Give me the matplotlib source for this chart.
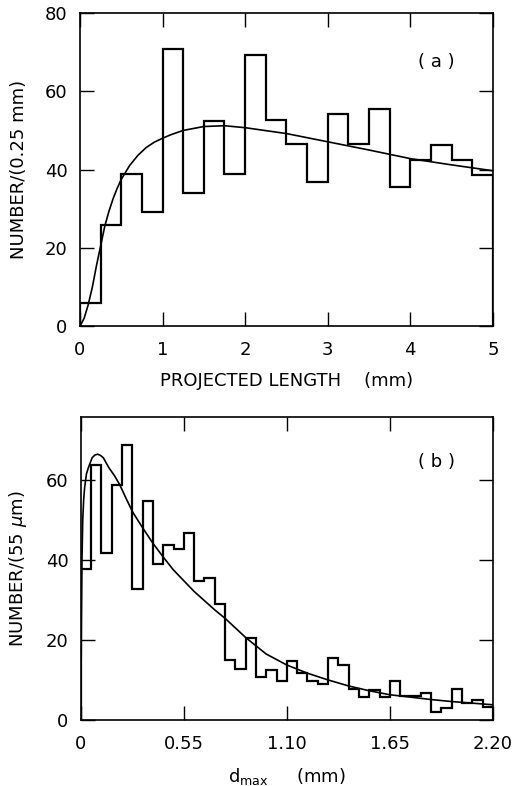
import matplotlib
matplotlib.use('Agg')
import matplotlib.pyplot as plt
import numpy as np

# (a) projected length histogram, 0.25 mm bins
len_edges = np.arange(0, 5.0001, 0.25)
len_counts = [6.0, 25.8, 38.8, 29.2, 70.8, 33.9, 52.5, 38.8, 69.3, 52.7,
              46.5, 36.7, 54.2, 46.5, 55.4, 35.6, 42.5, 46.4, 42.5, 38.6]
len_fit_x = [0, 0.05, 0.1, 0.15, 0.2, 0.25, 0.3, 0.35, 0.4, 0.45, 0.5, 0.6, 0.7,
             0.8, 0.9, 1.0, 1.1, 1.25, 1.5, 1.75, 2.0, 2.5, 3.0, 3.5, 4.0, 4.5, 5.0]
len_fit_y = [0, 2.0, 5.5, 10.0, 15.5, 20.5, 25.5, 29.3, 32.5, 35.2, 37.5, 41.0, 43.6,
             45.6, 47.0, 48.0, 48.9, 50.0, 51.0, 51.2, 50.7, 49.2, 47.1, 45.0, 42.8, 41.2, 39.7]

# (b) d_max histogram, 55 um bins
d_edges = np.arange(41) * 0.055
d_counts = [37.7, 63.8, 41.7, 58.8, 68.8, 32.8, 54.8, 38.9, 43.7, 42.8,
            46.6, 34.6, 35.5, 28.9, 15.0, 12.8, 20.5, 10.8, 12.6, 9.8,
            14.8, 11.8, 9.8, 8.9, 15.6, 13.8, 7.7, 5.8, 7.6, 5.8,
            9.7, 5.9, 5.9, 6.8, 2.0, 3.1, 7.7, 4.2, 4.9, 3.3]
d_fit_x = [0, 0.003, 0.006, 0.01, 0.015, 0.02, 0.03, 0.04, 0.06, 0.075, 0.09,
           0.105, 0.12, 0.15, 0.18, 0.208, 0.24, 0.276, 0.33, 0.384, 0.44, 0.494,
           0.605, 0.715, 0.77, 0.88, 0.989, 1.099, 1.209, 1.32, 1.43, 1.54, 1.65,
           1.761, 1.871, 1.981, 2.091, 2.2]
d_fit_y = [0, 25, 40, 50, 55, 58, 61.5, 63, 65.5, 66.2, 66.4,
           66.1, 65.5, 63.0, 61.0, 58.75, 55.5, 52.0, 48.0, 44.2, 40.7, 37.5,
           32.1, 27.5, 25.4, 20.6, 16.5, 13.75, 11.7, 10.0, 8.5, 7.3, 6.3,
           5.7, 5.1, 4.6, 4.2, 3.8]

plt.rcParams['font.family'] = 'DejaVu Sans'
plt.rcParams['font.size'] = 13

fig = plt.figure(figsize=(5.15, 7.86), dpi=100)
ax1 = fig.add_axes([0.1553, 0.585, 0.8017, 0.3985])
ax2 = fig.add_axes([0.157, 0.084, 0.800, 0.3855])

def style(ax):
    for s in ax.spines.values():
        s.set_linewidth(1.2)
    ax.tick_params(direction='in', length=10, width=1.0, top=True, right=True,
                   labelsize=13)
    ax.tick_params(axis='x', pad=11)
    ax.tick_params(axis='y', pad=9)

# top panel
ax1.stairs(len_counts, len_edges, color='k', lw=1.6, baseline=0)
ax1.plot(len_fit_x, len_fit_y, color='k', lw=1.2)
ax1.set_xlim(0, 5)
ax1.set_ylim(0, 80)
ax1.set_xticks([0, 1, 2, 3, 4, 5])
ax1.set_yticks([0, 20, 40, 60, 80])
ax1.set_xlabel('PROJECTED LENGTH    (mm)', fontsize=13, labelpad=9)
ax1.set_ylabel('NUMBER/(0.25 mm)', fontsize=13, labelpad=12)
ax1.text(4.32, 67.5, '( a )', fontsize=13, ha='center', va='center')
style(ax1)

# bottom panel
ax2.stairs(d_counts, d_edges, color='k', lw=1.6, baseline=0)
ax2.plot(d_fit_x, d_fit_y, color='k', lw=1.2)
ax2.set_xlim(0, 2.2)
ax2.set_ylim(0, 75.7)
ax2.set_xticks([0, 0.55, 1.10, 1.65, 2.20])
ax2.set_xticklabels(['0', '0.55', '1.10', '1.65', '2.20'])
ax2.set_yticks([0, 20, 40, 60])
ax2.set_xlabel(r'd$_{\mathregular{max}}$     (mm)', fontsize=13, labelpad=9)
ax2.set_ylabel(r'NUMBER/(55 $\mu$m)', fontsize=13, labelpad=12)
ax2.text(1.90, 64.5, '( b )', fontsize=13, ha='center', va='center')
style(ax2)

fig.savefig('out.png', dpi=100)
